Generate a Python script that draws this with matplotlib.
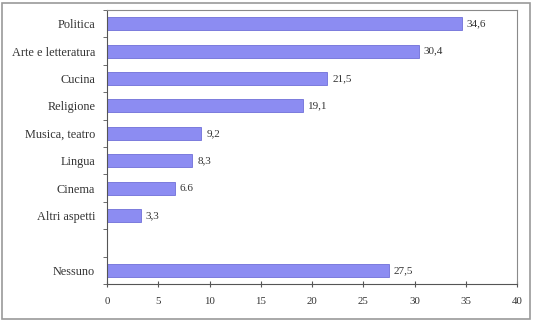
import numpy as np
import matplotlib.pyplot as plt
from matplotlib.patches import Rectangle

categories = ['Politica', 'Arte e letteratura', 'Cucina', 'Religione', 'Musica, teatro',
              'Lingua', 'Cinema', 'Altri aspetti', '', 'Nessuno']
values = [34.6, 30.4, 21.5, 19.1, 9.2, 8.3, 6.6, 3.3, None, 27.5]
value_labels = ['34,6', '30,4', '21,5', '19,1', '9,2', '8,3', '6.6', '3,3', '', '27,5']
xticks = [0, 5, 10, 15, 20, 25, 30, 35, 40]

plt.rcParams['font.family'] = 'Liberation Serif'

fig = plt.figure(figsize=(5.33, 3.21), dpi=100)
ax = fig.add_axes([107/533, 1-284/321, 410/533, 274/321])

# outer border of the picture
fig.patches.append(Rectangle((2/533, 2/321), 528/533, 316/321, transform=fig.transFigure,
                             fill=False, edgecolor='#9a9a9a', linewidth=1.2))

n = len(categories)
pos = np.arange(n)
for i, v in enumerate(values):
    if v is None:
        continue
    ax.barh(pos[i], v, height=0.47, color='#8c8cf2', edgecolor='#7070d8', linewidth=0.6)
    ax.text(v + 0.5, pos[i], value_labels[i], va='center', ha='left', fontsize=8, color='#333333')

ax.set_ylim(n - 0.5, -0.5)
ax.set_xlim(0, 40)
ax.set_yticks(pos)
ax.set_yticklabels(categories, fontsize=8.8, color='#333333')
ax.set_yticks(np.arange(-0.5, n, 1), minor=True)
ax.tick_params(axis='y', which='major', length=0, pad=8.5)
ax.tick_params(axis='y', which='minor', length=3, direction='out', color='#555555')
ax.set_xticks(xticks)
ax.set_xticklabels([str(t) for t in xticks], fontsize=7.8, color='#333333')
ax.tick_params(axis='x', length=4, direction='inout', color='#555555', pad=7)

for s in ax.spines.values():
    s.set_color('#8a8a8a')
    s.set_linewidth(0.8)
ax.spines['left'].set_color('#555555')
ax.spines['bottom'].set_color('#555555')

fig.savefig('out.png', dpi=100)
